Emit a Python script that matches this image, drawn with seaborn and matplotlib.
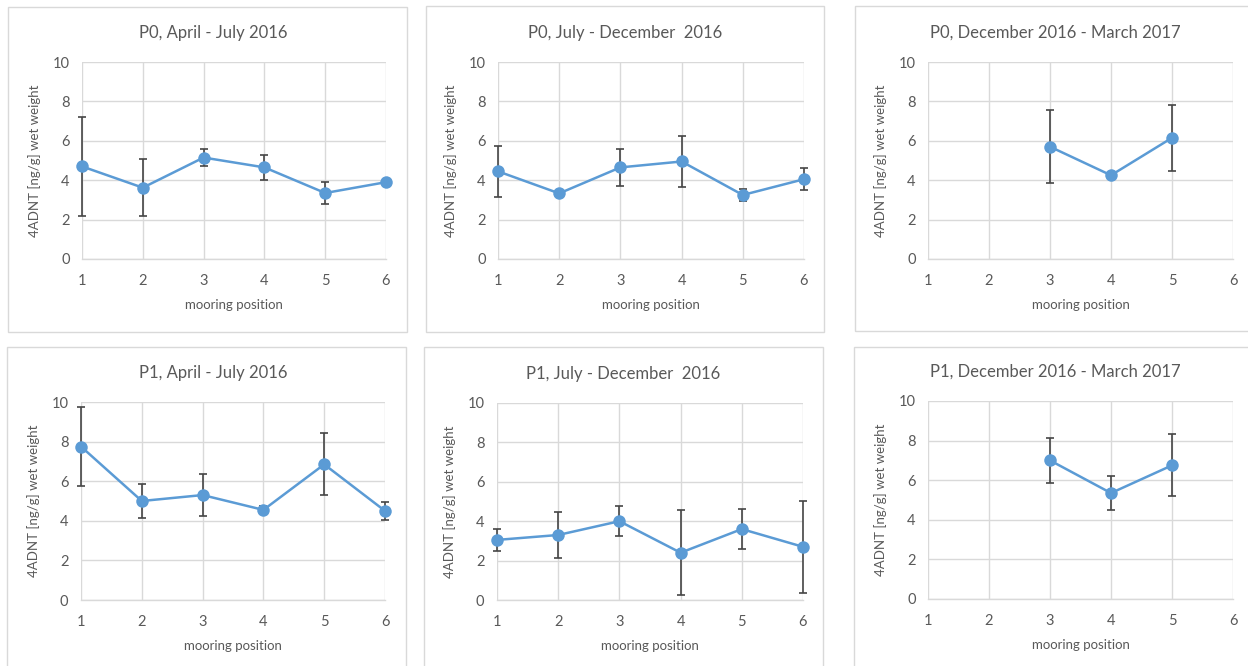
import numpy as np
import pandas as pd
import matplotlib
matplotlib.use("Agg")
import matplotlib.pyplot as plt
from matplotlib.patches import Rectangle
import seaborn as sns

positions = [1, 2, 3, 4, 5, 6]

titles = [
    "P0, April - July 2016",
    "P0, July - December  2016",
    "P0, December 2016 - March 2017",
    "P1, April - July 2016",
    "P1, July - December  2016",
    "P1, December 2016 - March 2017",
]

p0_apr_jul = [4.70, 3.62, 5.15, 4.65, 3.35, 3.90]
p0_apr_jul_err = [2.50, 1.45, 0.45, 0.65, 0.58, 0.0]

p0_jul_dec = [4.45, 3.33, 4.65, 4.95, 3.25, 4.05]
p0_jul_dec_err = [1.30, 0.0, 0.95, 1.30, 0.30, 0.55]

p0_dec_mar = [np.nan, np.nan, 5.70, 4.25, 6.15, np.nan]
p0_dec_mar_err = [np.nan, np.nan, 1.85, 0.0, 1.67, np.nan]

p1_apr_jul = [7.75, 5.00, 5.30, 4.55, 6.85, 4.50]
p1_apr_jul_err = [2.00, 0.85, 1.05, 0.22, 1.57, 0.45]

p1_jul_dec = [3.05, 3.30, 4.00, 2.40, 3.60, 2.70]
p1_jul_dec_err = [0.55, 1.17, 0.77, 2.15, 1.00, 2.35]

p1_dec_mar = [np.nan, np.nan, 7.00, 5.35, 6.75, np.nan]
p1_dec_mar_err = [np.nan, np.nan, 1.12, 0.87, 1.57, np.nan]

series = [
    (p0_apr_jul, p0_apr_jul_err),
    (p0_jul_dec, p0_jul_dec_err),
    (p0_dec_mar, p0_dec_mar_err),
    (p1_apr_jul, p1_apr_jul_err),
    (p1_jul_dec, p1_jul_dec_err),
    (p1_dec_mar, p1_dec_mar_err),
]

sns.set_style("white")
plt.rcParams["font.family"] = ["Lato", "DejaVu Sans"]

W, H = 1248, 666
fig = plt.figure(figsize=(W / 100, H / 100), dpi=100)
fig.patch.set_facecolor("white")

# pixel layout: panel frame (x0, y0, x1, y1) and plot area (x0, y_top, x1, y_bottom)
boxes = [
    (8, 7, 407, 332), (426, 6, 824, 332), (855, 6, 1252, 331),
    (7, 347, 406, 670), (424, 347, 823, 670), (854, 347, 1252, 670),
]
plots = [
    (82, 62, 386, 259), (498, 62, 804, 259), (928, 62, 1233, 259),
    (81, 402, 385, 600), (497, 403, 803, 600), (928, 401, 1233, 599),
]
title_x = [213, 625, 1055, 213, 623, 1055]

line_c = "#5B9BD5"
grid_c = "#D9D9D9"
text_c = "#595959"
err_c = "#454545"

for (bx0, by0, bx1, by1) in boxes:
    fig.patches.append(Rectangle((bx0 / W, 1 - by1 / H), (bx1 - bx0) / W, (by1 - by0) / H,
                                 transform=fig.transFigure, fill=False,
                                 edgecolor="#D9D9D9", linewidth=1.0))

for (px0, pyt, px1, pyb), (vals, errs), title, tx in zip(plots, series, titles, title_x):
    ax = fig.add_axes([px0 / W, 1 - pyb / H, (px1 - px0) / W, (pyb - pyt) / H])
    df = pd.DataFrame({"pos": positions, "val": vals, "err": errs}).dropna()
    ax.errorbar(df["pos"], df["val"], yerr=df["err"], fmt="none", ecolor=err_c,
                elinewidth=1.2, capsize=3, capthick=1.2, zorder=3, clip_on=False)
    sns.lineplot(data=df, x="pos", y="val", ax=ax, color=line_c, linewidth=1.8,
                 marker="o", markersize=9, markeredgewidth=0, zorder=4, clip_on=False)
    ax.set_xlim(1, 6)
    ax.set_ylim(0, 10)
    ax.set_xticks(positions)
    ax.set_yticks([0, 2, 4, 6, 8, 10])
    ax.grid(True, color=grid_c, linewidth=1.0)
    ax.set_axisbelow(True)
    for s in ["top", "right", "left"]:
        ax.spines[s].set_visible(False)
    ax.spines["bottom"].set_color(grid_c)
    ax.spines["bottom"].set_linewidth(1.0)
    ax.tick_params(axis="both", length=0, labelsize=10.5, labelcolor=text_c)
    ax.tick_params(axis="x", pad=11)
    ax.tick_params(axis="y", pad=9)
    ax.set_xlabel("mooring position", fontsize=9.5, color=text_c, labelpad=8)
    ax.set_ylabel("4ADNT [ng/g] wet weight", fontsize=9.5, color=text_c, labelpad=8)
    fig.text(tx / W, 1 - (pyt - 29) / H, title, ha="center", va="center",
             fontsize=12, color=text_c)

fig.savefig("out.png", dpi=100, facecolor="white")
